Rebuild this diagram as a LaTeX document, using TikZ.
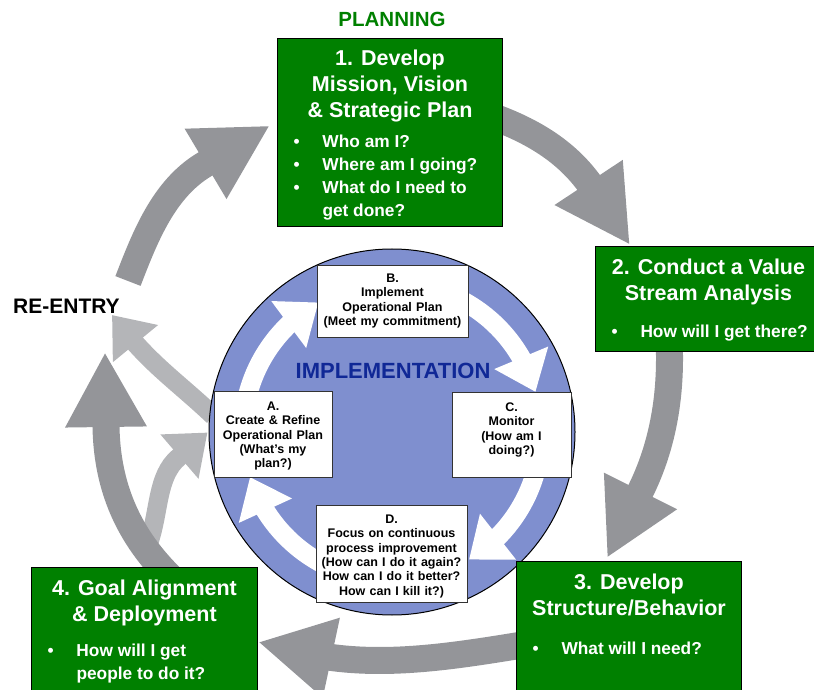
\documentclass[tikz,border=0pt]{standalone}
\usepackage{fontspec}
\setmainfont{Liberation Sans}
\usetikzlibrary{arrows.meta,bending,calc,positioning}

\definecolor{goalgreen}{RGB}{0,128,0}
\definecolor{darkgrey}{RGB}{148,149,153}
\definecolor{lightgrey}{RGB}{180,181,184}
\definecolor{hubblue}{RGB}{127,143,207}
\definecolor{navy}{RGB}{16,40,150}

\pgfdeclarelayer{arrows}
\pgfsetlayers{arrows,main}

\newcommand{\titlef}{\fontsize{21.5}{26}\selectfont}
\newcommand{\bulletf}{\fontsize{17.3}{23}\selectfont}
\newcommand{\bul}[1]{\hspace*{16pt}\makebox[29pt][l]{\textbullet}#1}
\newcommand{\bulcont}[1]{\hspace*{45pt}#1}

\tikzset{
  goal/.style={draw=black, line width=1pt, fill=goalgreen, text=white, inner sep=0pt, anchor=north west, font=\bfseries},
  phase/.style={draw=black!80, line width=1pt, fill=white, inner sep=0pt, align=center, text height=18.5pt, font=\fontsize{12.5}{14.3}\selectfont\bfseries},
  hub/.style={circle, draw=black, line width=1pt, fill=hubblue, minimum size=366pt, inner sep=0pt},
  bigarrow/.style={draw=darkgrey, line width=27pt, -{Triangle[length=75pt,width=76pt,flex]}},
  backarrow/.style={draw=lightgrey, line width=19pt, -{Triangle[length=37pt,width=56pt,flex]}},
  cyclearrow/.style={draw=white, line width=19pt, -{Triangle[length=37pt,width=56pt,flex]}}
}

\begin{document}
\begin{tikzpicture}[x=1pt,y=1pt]
    \useasboundingbox (0,0) rectangle (814,689);
    \clip (0,0) rectangle (814,689);

    \node[hub] (impl) at (392,257) {};
    \draw[cyclearrow] ([shift={(170:149)}]impl.center) arc[start angle=170, end angle=119.6, radius=149];
    \draw[cyclearrow] ([shift={(65:149)}]impl.center) arc[start angle=65, end angle=15.6, radius=149];
    \draw[cyclearrow] ([shift={(-12:149)}]impl.center) arc[start angle=-12, end angle=-58.9, radius=149];
    \draw[cyclearrow] ([shift={(-115:149)}]impl.center) arc[start angle=-115, end angle=-162.4, radius=149];

    \node[phase, text width=151pt, text height=16.5pt, text depth=55.5pt] (implement) at (392.5,387) {B.\\Implement\\Operational Plan\\(Meet my commitment)};
    \node[phase, text width=118pt, text depth=66.5pt] (create) at (273,254.5) {A.\\Create \& Refine\\Operational Plan\\(What’s my\\plan?)};
    \node[phase, text width=119pt, text depth=65.5pt] (monitor) at (511.5,254) {C.\\Monitor\\(How am I\\doing?)};
    \node[phase, text width=151pt, text depth=78.5pt] (improve) at (391.5,135.5) {D.\\Focus on continuous\\process improvement\\(How can I do it again?\\How can I do it better?\\How can I kill it?)};
    \node[font=\fontsize{22}{26}\selectfont\bfseries, text=navy] (impltitle) at (393,318) {IMPLEMENTATION};

    \node[goal] (dev) at (277,651) {\begin{minipage}[t][188pt][t]{225pt}
        \titlef\centering\rule{0pt}{26.7pt}1. Develop\\Mission, Vision\\\& Strategic Plan\par
        \vspace{7.5pt}\bulletf\raggedright
        \bul{Who am I?}\\\bul{Where am I going?}\\\bul{What do I need to}\\\bulcont{get done?}\par
    \end{minipage}};
    \node[goal] (vsa) at (595,443) {\begin{minipage}[t][105pt][t]{226pt}
        \titlef\centering\rule{0pt}{27.7pt}2. Conduct a Value\\Stream Analysis\par
        \vspace{14.5pt}\bulletf\raggedright
        \bul{How will I get there?}\par
    \end{minipage}};
    \node[goal] (sdb) at (516,128) {\begin{minipage}[t][140pt][t]{225pt}
        \titlef\centering\rule{0pt}{27.7pt}3. Develop\\Structure/Behavior\par
        \vspace{16.5pt}\bulletf\raggedright
        \bul{What will I need?}\par
    \end{minipage}};
    \node[goal] (gad) at (31,122) {\begin{minipage}[t][140pt][t]{226pt}
        \titlef\centering\rule{0pt}{27.7pt}4. Goal Alignment\\\& Deployment\par
        \vspace{12.5pt}\bulletf\raggedright
        \bul{How will I get}\\\bulcont{people to do it?}\par
    \end{minipage}};

    \node[font=\fontsize{20.5}{24}\selectfont\bfseries, text=goalgreen] (planning) at (392,670) {PLANNING};
    \node[font=\fontsize{21}{25}\selectfont\bfseries, anchor=west, inner sep=0pt] (reentry) at (13,383) {RE-ENTRY};

    \coordinate (tip1) at ($(vsa.north west)+(35,1)$);
    \coordinate (tip2) at ($(sdb.north west)+(91,3)$);
    \coordinate (tip3) at ($(gad.north east)+(0,-75)$);
    \coordinate (tip4) at (105,337);
    \coordinate (from5) at (128,408);
    \coordinate (tip5) at ($(dev.west)+(-7,7)$);
    \coordinate (out1) at (112,374);
    \coordinate (from2) at (148,144);

    \begin{pgfonlayer}{arrows}
    \draw[backarrow] ($(create.west)+(0,18.5)$) .. controls (184,301) and (160,318) .. (135,346) -- (out1);
    \draw[backarrow] (from2) .. controls (160,177) and (156,213) .. (179,232) -- ($(create.west)+(-6,2)$);
    \draw[bigarrow, shorten <=-6pt] ($(dev.east)+(0,12)$) .. controls (536,556) and (567,536) .. (589,506) -- (tip1);
    \draw[bigarrow, shorten <=-6pt] ($(vsa.south)+(-39,0)$) .. controls (671,290) and (662,242) .. (641,199) -- (tip2);
    \draw[bigarrow, shorten <=-6pt] ($(sdb.north west)+(0,-85)$) .. controls (455,33) and (390,23) .. (328,32) -- (tip3);
    \draw[bigarrow, shorten <=-16pt] ($(gad.north west)+(129,0)$) .. controls (123,158) and (107,210) .. (106,262) -- (tip4);
    \draw[bigarrow] (from5) .. controls (145,452) and (163.5,500) .. (204.5,524.5) -- (tip5);
    \end{pgfonlayer}
\end{tikzpicture}
\end{document}
